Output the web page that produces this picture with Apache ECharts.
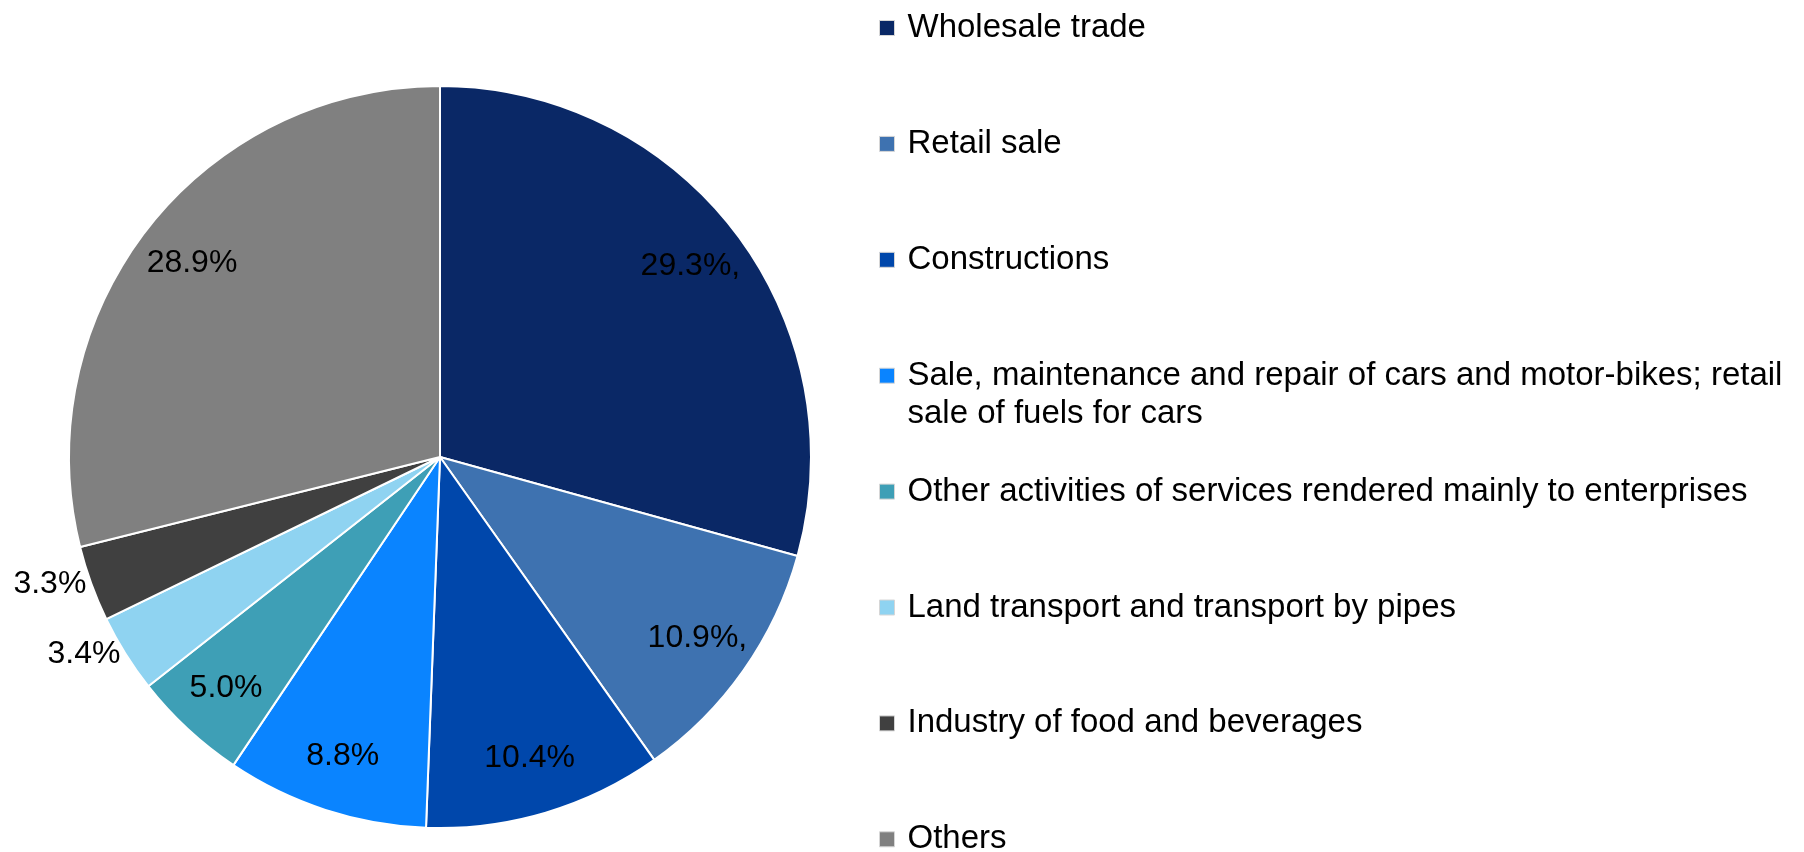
<!DOCTYPE html>
<html>
<head>
<meta charset="utf-8">
<script src="https://cdn.jsdelivr.net/npm/echarts@6/dist/echarts.min.js"></script>
<style>
  html, body { margin: 0; padding: 0; background: #fff; }
  #main { width: 1804px; height: 852px; }
</style>
</head>
<body>
<div id="main"></div>
<script>
// shares by sector, %
var names = [
  'Wholesale trade',
  'Retail sale',
  'Constructions',
  'Sale, maintenance and repair of cars and motor-bikes; retail sale of fuels for cars',
  'Other activities of services rendered mainly to enterprises',
  'Land transport and transport by pipes',
  'Industry of food and beverages',
  'Others'
];
var values = [29.3, 10.9, 10.4, 8.8, 5.0, 3.4, 3.3, 28.9];
var labelTexts = ['29.3%,', '10.9%,', '10.4%', '8.8%', '5.0%', '3.4%', '3.3%', '28.9%'];
var colors = ['#0a2866', '#3e72b0', '#0047ab', '#0a84ff', '#3e9fb6', '#8fd3f1', '#404040', '#808080'];

var FONT = '"Liberation Sans", Arial, sans-serif';
var CX = 440, CY = 457, R = 371;

var myChart = echarts.init(document.getElementById('main'));

function isSmall(v) { return v < 4; } // tiny slices get their label outside

var mainData = names.map(function (n, i) {
  return {
    name: n,
    value: values[i],
    itemStyle: { color: colors[i] },
    label: { show: isSmall(values[i]) }
  };
});
// transparent ring on top, only used to put the inside labels further out
var labelData = names.map(function (n, i) {
  return {
    name: n,
    value: values[i],
    label: { show: !isSmall(values[i]) }
  };
});

// one legend per entry, evenly spaced like the original (the wrapped one doesn't push the rest)
var lineH = 38;
var legends = names.map(function (n, i) {
  var wrapped = n.indexOf('; retail sale') >= 0;
  var mid = 28 + i * 115.9;
  return {
    data: [n],
    orient: 'vertical',
    left: 879,
    top: mid - lineH / 2 - (wrapped ? lineH : 0),
    padding: 0,
    icon: 'rect',
    itemWidth: 15,
    itemHeight: 15,
    itemStyle: { borderColor: '#d6d6d6', borderWidth: 1 },
    selectedMode: false,
    formatter: function (name) {
      // empty first line keeps the icon level with the first text line
      return wrapped ? '\n' + name.replace('retail sale', 'retail\nsale') : name;
    },
    textStyle: {
      fontFamily: FONT,
      fontSize: 33,
      color: '#000',
      lineHeight: lineH,
      padding: [0, 0, 0, 8]
    }
  };
});

var option = {
  backgroundColor: '#fff',
  animation: false,
  legend: legends,
  series: [
    {
      type: 'pie',
      center: [CX, CY],
      radius: R,
      startAngle: 90,
      clockwise: true,
      avoidLabelOverlap: false,
      itemStyle: { borderColor: '#fff', borderWidth: 2 },
      label: {
        position: 'outside',
        fontFamily: FONT,
        fontSize: 32,
        color: '#000',
        formatter: function (p) { return labelTexts[p.dataIndex]; }
      },
      labelLine: { show: false, length: 0, length2: 0 },
      emphasis: { disabled: true },
      data: mainData
    },
    {
      type: 'pie',
      center: [CX, CY],
      radius: [R * 0.68, R],
      startAngle: 90,
      clockwise: true,
      silent: true,
      legendHoverLink: false,
      itemStyle: { color: 'transparent', borderWidth: 0 },
      label: {
        position: 'inside',
        fontFamily: FONT,
        fontSize: 32,
        color: '#000',
        formatter: function (p) { return labelTexts[p.dataIndex]; }
      },
      labelLine: { show: false },
      emphasis: { disabled: true },
      data: labelData
    }
  ]
};

myChart.setOption(option);
</script>
</body>
</html>
